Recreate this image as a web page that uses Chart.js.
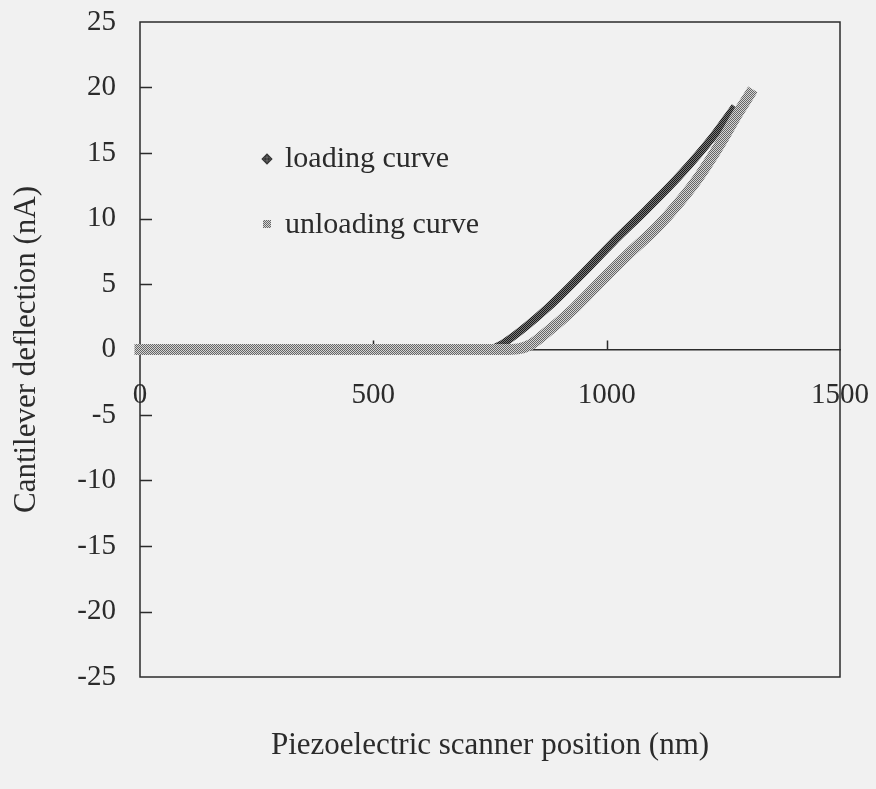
<!DOCTYPE html>
<html>
<head>
<meta charset="utf-8">
<title>Force curve</title>
<script src="https://cdn.jsdelivr.net/npm/chart.js@4"></script>
<style>
  html, body { margin: 0; padding: 0; background: #f1f1f1; }
  canvas { display: block; }
</style>
</head>
<body>
<canvas id="forceChart" width="876" height="789"></canvas>
<script>
// scanner position (nm) vs deflection (nA)
const loadX = [0, 250, 500, 745, 770, 800, 871, 943, 1014, 1086, 1157, 1229, 1270];
const loadY = [0, 0, 0, 0, 0.3, 1.0, 3.1, 5.6, 8.2, 10.7, 13.3, 16.3, 18.3];

const unloadX = [1307, 1279, 1250, 1200, 1157, 1107, 1050, 993, 929, 871, 836, 810, 780, 500, 250, 0];
const unloadY = [19.5, 17.9, 16.1, 13.3, 11.3, 9.3, 7.4, 5.4, 3.1, 1.3, 0.35, 0.05, 0, 0, 0, 0];

const xTicks = [0, 500, 1000, 1500];
const yTicks = [-25, -20, -15, -10, -5, 0, 5, 10, 15, 20, 25];

const seriesNames = ['loading curve', 'unloading curve'];

const serif = '"Liberation Serif", "Times New Roman", serif';
const ink = '#2b2b2b';

// small checkered fill, looks like densely packed markers
function checker(light, dark) {
  const c = document.createElement('canvas');
  c.width = 2;
  c.height = 2;
  const g = c.getContext('2d');
  g.fillStyle = light;
  g.fillRect(0, 0, 2, 2);
  g.fillStyle = dark;
  g.fillRect(0, 0, 1, 1);
  g.fillRect(1, 1, 1, 1);
  return g.createPattern(c, 'repeat');
}

const grayFill = checker('#d4d4d4', '#666666');
const darkFill = checker('#7a7a7a', '#1a1a1a');

const toPoints = (xs, ys) => xs.map((x, i) => ({ x: x, y: ys[i] }));

// keep the plot box where the layout padding puts it
const noOverflow = s => {
  s.paddingTop = 0;
  s.paddingBottom = 0;
  s.paddingLeft = 0;
  s.paddingRight = 0;
};

// box around the plot + inward tick marks
const frame = {
  id: 'frame',
  beforeDatasetsDraw(chart) {
    const { ctx, chartArea: a, scales } = chart;
    const ys = scales.y, xs = scales.x;
    ctx.save();
    ctx.strokeStyle = ink;
    ctx.lineWidth = 1.5;
    ctx.strokeRect(a.left, a.top, a.right - a.left, a.bottom - a.top);
    ctx.beginPath();
    yTicks.forEach(v => {
      if (v === yTicks[0] || v === yTicks[yTicks.length - 1] || v === 0) return;
      const py = Math.round(ys.getPixelForValue(v)) + 0.5;
      ctx.moveTo(a.left, py);
      ctx.lineTo(a.left + 12, py);
    });
    const y0 = ys.getPixelForValue(0);
    xTicks.forEach(v => {
      if (v === xTicks[0] || v === xTicks[xTicks.length - 1]) return;
      const px = Math.round(xs.getPixelForValue(v)) + 0.5;
      ctx.moveTo(px, y0);
      ctx.lineTo(px, y0 - 9);
    });
    ctx.stroke();
    ctx.restore();
  }
};

// legend inside the plot
const keyBox = {
  id: 'keyBox',
  afterDatasetsDraw(chart) {
    const { ctx, chartArea: a } = chart;
    const x = a.left + 127;
    const rows = [a.top + 137, a.top + 202];
    ctx.save();
    ctx.font = '30px ' + serif;
    ctx.fillStyle = ink;
    ctx.textBaseline = 'alphabetic';

    // diamond
    ctx.save();
    ctx.translate(x, rows[0]);
    ctx.rotate(Math.PI / 4);
    ctx.fillStyle = darkFill;
    ctx.fillRect(-3.5, -3.5, 7, 7);
    ctx.strokeStyle = '#333';
    ctx.lineWidth = 1;
    ctx.strokeRect(-3.5, -3.5, 7, 7);
    ctx.restore();
    ctx.fillText(seriesNames[0], x + 18, rows[0] + 8);

    // square
    ctx.fillStyle = grayFill;
    ctx.fillRect(x - 4, rows[1] - 4, 8, 8);
    ctx.fillStyle = ink;
    ctx.fillText(seriesNames[1], x + 18, rows[1] + 9);
    ctx.restore();
  }
};

new Chart(document.getElementById('forceChart'), {
  type: 'scatter',
  data: {
    datasets: [
      {
        label: seriesNames[0],
        data: toPoints(loadX, loadY),
        showLine: true,
        borderColor: darkFill,
        borderWidth: 8,
        borderCapStyle: 'square',
        borderJoinStyle: 'round',
        cubicInterpolationMode: 'monotone',
        pointRadius: 0,
        clip: false,
        order: 1
      },
      {
        label: seriesNames[1],
        data: toPoints(unloadX, unloadY),
        showLine: true,
        borderColor: grayFill,
        borderWidth: 11,
        borderCapStyle: 'square',
        borderJoinStyle: 'round',
        cubicInterpolationMode: 'monotone',
        pointRadius: 0,
        clip: false,
        order: 0
      }
    ]
  },
  options: {
    responsive: false,
    animation: false,
    devicePixelRatio: 1,
    layout: { padding: { top: 22, right: 36, left: 0, bottom: 0 } },
    plugins: {
      legend: { display: false },
      tooltip: { enabled: false }
    },
    scales: {
      x: {
        type: 'linear',
        position: { y: 0 },
        min: xTicks[0],
        max: xTicks[xTicks.length - 1],
        afterBuildTicks: s => { s.ticks = xTicks.map(v => ({ value: v })); },
        afterFit: noOverflow,
        ticks: {
          color: ink,
          padding: 28,
          font: { family: serif, size: 29 },
          callback: v => String(v)
        },
        grid: { display: false, drawTicks: false },
        border: { display: true, color: ink, width: 1.5 }
      },
      xTitle: {
        type: 'linear',
        axis: 'x',
        position: 'bottom',
        min: xTicks[0],
        max: xTicks[xTicks.length - 1],
        ticks: { display: false },
        grid: { display: false, drawTicks: false },
        border: { display: false },
        title: {
          display: true,
          text: 'Piezoelectric scanner position (nm)',
          color: ink,
          font: { family: serif, size: 31 },
          padding: { bottom: 25 }
        },
        afterFit: s => { noOverflow(s); s.height = 112; }
      },
      y: {
        type: 'linear',
        position: 'left',
        min: yTicks[0],
        max: yTicks[yTicks.length - 1],
        afterBuildTicks: s => { s.ticks = yTicks.map(v => ({ value: v })); },
        ticks: {
          color: ink,
          padding: 24,
          font: { family: serif, size: 29 },
          callback: v => String(v)
        },
        grid: { display: false, drawTicks: false },
        border: { display: false },
        title: {
          display: true,
          text: 'Cantilever deflection (nA)',
          color: ink,
          font: { family: serif, size: 31 },
          padding: { top: 8 }
        },
        afterFit: s => { noOverflow(s); s.width = 140; }
      }
    }
  },
  plugins: [frame, keyBox]
});
</script>
</body>
</html>
